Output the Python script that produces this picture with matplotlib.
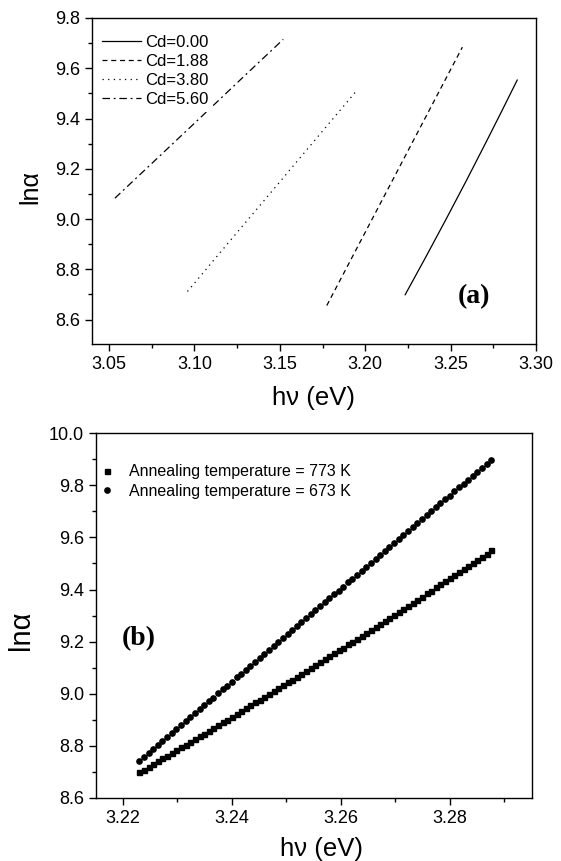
import numpy as np
import matplotlib
matplotlib.use("Agg")
import matplotlib.pyplot as plt
from matplotlib.ticker import MultipleLocator

plt.rcParams['font.family'] = ['Liberation Sans', 'DejaVu Sans']

# ---- panel (a): ln(alpha) vs photon energy for several Cd contents ----
cd_labels = ["Cd=0.00", "Cd=1.88", "Cd=3.80", "Cd=5.60"]
cd000_x = [3.2234, 3.2350, 3.2470, 3.2590, 3.2710, 3.2800, 3.2890]
cd000_y = [8.699, 8.843, 8.995, 9.150, 9.309, 9.430, 9.553]
cd188_x = [3.1775, 3.1975, 3.2175, 3.2375, 3.2569]
cd188_y = [8.656, 8.915, 9.174, 9.433, 9.684]
cd380_x = [3.0959, 3.1209, 3.1459, 3.1709, 3.1945]
cd380_y = [8.712, 8.914, 9.115, 9.317, 9.507]
cd560_x = [3.0534, 3.0784, 3.1034, 3.1284, 3.1520]
cd560_y = [9.083, 9.243, 9.403, 9.564, 9.715]

# ---- panel (b): two annealing temperatures ----
ann_labels = ["Annealing temperature = 773 K", "Annealing temperature = 673 K"]
hv = [3.22300, 3.22385, 3.22470, 3.22555, 3.22640, 3.22725, 3.22810, 3.22895,
      3.22980, 3.23065, 3.23150, 3.23235, 3.23320, 3.23405, 3.23490, 3.23575,
      3.23660, 3.23745, 3.23830, 3.23915, 3.24000, 3.24085, 3.24170, 3.24255,
      3.24340, 3.24425, 3.24510, 3.24595, 3.24680, 3.24765, 3.24850, 3.24935,
      3.25020, 3.25105, 3.25190, 3.25275, 3.25360, 3.25445, 3.25530, 3.25615,
      3.25700, 3.25785, 3.25870, 3.25955, 3.26040, 3.26125, 3.26210, 3.26295,
      3.26380, 3.26465, 3.26550, 3.26635, 3.26720, 3.26805, 3.26890, 3.26975,
      3.27060, 3.27145, 3.27230, 3.27315, 3.27400, 3.27485, 3.27570, 3.27655,
      3.27740, 3.27825, 3.27910, 3.27995, 3.28080, 3.28165, 3.28250, 3.28335,
      3.28420, 3.28505, 3.28590, 3.28675, 3.28760]
ln_773 = [8.698, 8.708, 8.719, 8.729, 8.740, 8.751, 8.761, 8.772, 8.782, 8.793,
          8.804, 8.814, 8.825, 8.836, 8.846, 8.857, 8.868, 8.879, 8.889, 8.900,
          8.911, 8.922, 8.933, 8.944, 8.955, 8.966, 8.977, 8.988, 8.999, 9.010,
          9.021, 9.032, 9.043, 9.054, 9.065, 9.076, 9.087, 9.099, 9.110, 9.121,
          9.132, 9.143, 9.155, 9.166, 9.177, 9.189, 9.200, 9.211, 9.223, 9.234,
          9.246, 9.257, 9.269, 9.280, 9.292, 9.303, 9.315, 9.326, 9.338, 9.350,
          9.361, 9.373, 9.385, 9.396, 9.408, 9.420, 9.432, 9.443, 9.455, 9.467,
          9.479, 9.491, 9.503, 9.515, 9.526, 9.538, 9.550]
ln_673 = [8.742, 8.757, 8.772, 8.788, 8.803, 8.818, 8.833, 8.849, 8.864, 8.879,
          8.894, 8.909, 8.925, 8.940, 8.955, 8.970, 8.985, 9.001, 9.016, 9.031,
          9.046, 9.062, 9.077, 9.092, 9.107, 9.122, 9.138, 9.153, 9.168, 9.183,
          9.198, 9.214, 9.229, 9.244, 9.259, 9.275, 9.290, 9.305, 9.320, 9.335,
          9.351, 9.366, 9.381, 9.396, 9.411, 9.427, 9.442, 9.457, 9.472, 9.487,
          9.503, 9.518, 9.533, 9.548, 9.564, 9.579, 9.594, 9.609, 9.624, 9.640,
          9.655, 9.670, 9.685, 9.700, 9.716, 9.731, 9.746, 9.761, 9.777, 9.792,
          9.807, 9.822, 9.837, 9.853, 9.868, 9.883, 9.898]

fig = plt.figure(figsize=(5.61, 8.61), dpi=100)
ax1 = fig.add_axes([0.164, 0.6005, 0.7914, 0.3786])
ax2 = fig.add_axes([0.1706, 0.0735, 0.7772, 0.4232])


def style_axes(ax):
    for s in ax.spines.values():
        s.set_linewidth(1.0)
    ax.tick_params(which='both', direction='out', top=False, right=False,
                   labelsize=13, width=1.0)
    ax.tick_params(which='major', length=5)
    ax.tick_params(which='minor', length=3)


# panel (a)
ax1.plot(cd000_x, cd000_y, color='black', lw=0.9, ls='-', label=cd_labels[0])
ax1.plot(cd188_x, cd188_y, color='black', lw=0.9, ls=(0, (4, 3)), label=cd_labels[1])
ax1.plot(cd380_x, cd380_y, color='black', lw=0.9, ls=(0, (1, 3.5)), label=cd_labels[2])
ax1.plot(cd560_x, cd560_y, color='black', lw=0.9, ls=(0, (6, 3, 1.5, 3)), label=cd_labels[3])
ax1.set_xlim(3.04, 3.30)
ax1.set_ylim(8.503, 9.8)
ax1.xaxis.set_major_locator(MultipleLocator(0.05))
ax1.xaxis.set_minor_locator(MultipleLocator(0.025))
ax1.yaxis.set_major_locator(MultipleLocator(0.2))
ax1.yaxis.set_minor_locator(MultipleLocator(0.1))
ax1.xaxis.set_major_formatter(plt.FormatStrFormatter('%.2f'))
ax1.yaxis.set_major_formatter(plt.FormatStrFormatter('%.1f'))
style_axes(ax1)
ax1.set_xlabel("hν (eV)", fontsize=18.5)
ax1.xaxis.set_label_coords(0.5, -0.129)
ax1.set_ylabel("lnα", fontsize=18)
ax1.yaxis.set_label_coords(-0.111, 0.48)
leg1 = ax1.legend(loc='upper left', bbox_to_anchor=(0.012, 0.964), fontsize=12,
                  handlelength=2.3, handletextpad=0.25, labelspacing=0.25,
                  borderpad=0.3, borderaxespad=0, frameon=True, fancybox=False)
leg1.get_frame().set_edgecolor('none')
leg1.get_frame().set_facecolor('white')
leg1.get_frame().set_alpha(1.0)
ax1.text(0.86, 0.145, "(a)", transform=ax1.transAxes, ha='center', va='center',
         fontsize=20, fontweight='bold', family='Liberation Serif')

# panel (b)
ax2.plot(hv, ln_773, ls='none', marker='s', ms=3.6, color='black', label=ann_labels[0])
ax2.plot(hv, ln_673, ls='none', marker='o', ms=3.8, color='black', label=ann_labels[1])
ax2.set_xlim(3.215, 3.295)
ax2.set_ylim(8.6, 10.0)
ax2.xaxis.set_major_locator(MultipleLocator(0.02))
ax2.xaxis.set_minor_locator(MultipleLocator(0.01))
ax2.yaxis.set_major_locator(MultipleLocator(0.2))
ax2.yaxis.set_minor_locator(MultipleLocator(0.1))
ax2.xaxis.set_major_formatter(plt.FormatStrFormatter('%.2f'))
ax2.yaxis.set_major_formatter(plt.FormatStrFormatter('%.1f'))
style_axes(ax2)
ax2.set_xlabel("hν (eV)", fontsize=18.5)
ax2.xaxis.set_label_coords(0.517, -0.107)
ax2.set_ylabel("lnα", fontsize=21)
ax2.yaxis.set_label_coords(-0.139, 0.46)
ax2.legend(loc='upper left', bbox_to_anchor=(0.0, 0.924), fontsize=11.5,
           handlelength=1.0, handletextpad=0.9, labelspacing=0.3,
           borderpad=0.2, borderaxespad=0, frameon=False)
ax2.text(0.098, 0.438, "(b)", transform=ax2.transAxes, ha='center', va='center',
         fontsize=20, fontweight='bold', family='Liberation Serif')

fig.savefig("out.png", dpi=100)
